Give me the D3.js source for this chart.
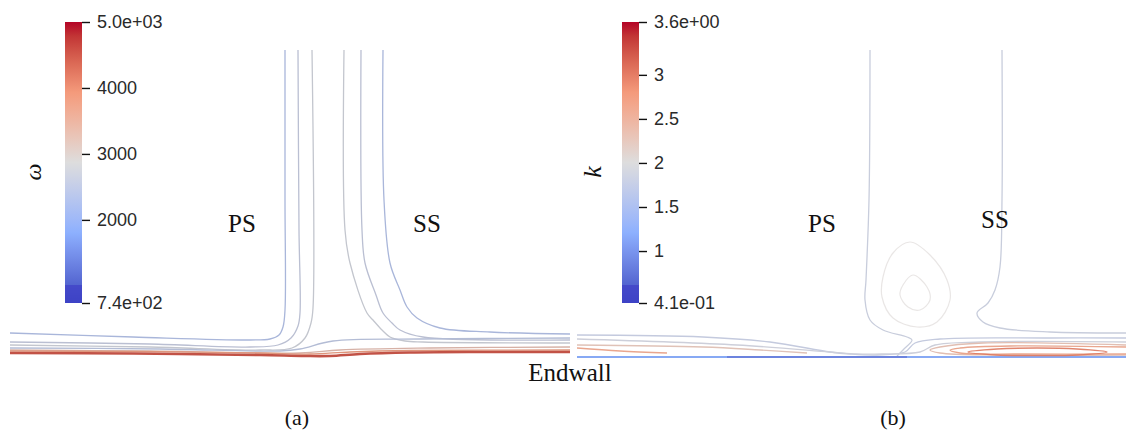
<!DOCTYPE html>
<html><head><meta charset="utf-8">
<script src="https://cdn.jsdelivr.net/npm/d3@7"></script>
<style>html,body{margin:0;padding:0;background:#fff}</style>
</head><body>
<svg id="c" width="1126" height="434"></svg>
<script>
// ---------------- data ----------------
const omegaRange = [740, 5000];
const omegaTicks = [5000, 4000, 3000, 2000, 740];
const omegaTickLabels = ["5.0e+03", "4000", "3000", "2000", "7.4e+02"];
const kRange = [0.41, 3.6];
const kTicks = [3.6, 3, 2.5, 2, 1.5, 1, 0.41];
const kTickLabels = ["3.6e+00", "3", "2.5", "2", "1.5", "1", "4.1e-01"];

// panel (a) contour lines of omega: [spanwise, height above endwall]
const aL1 = [[0,25],[123,21],[240,18],[260,19],[269,23],[273,31],[275,48],[275,158],[275,308]];
const aL2 = [[0,16],[140,14],[240,11],[268,13],[281,20],[288,32],[290,45],[289,128],[288,308]];
const aL3 = [[0,13],[140,11],[250,8],[282,10],[295,20],[301,35],[303,50],[302,308]];
const aL4 = [[334,308],[335,128],[340,95],[357,45],[363,38],[372,28],[380,21],[395,17],[413,16],[560,15]];
const aL5 = [[351,308],[352,128],[355,95],[366,63],[373,45],[382,35],[390,28],[413,21],[560,18]];
const aL6 = [[373,308],[374,158],[380,95],[390,68],[397,51],[407,40],[430,30],[480,26],[560,24]];
const aH1 = [[0,10],[150,9],[270,7],[290,9],[323,17],[410,19],[560,20]];
const aPale = [[0,8],[140,7],[290,5],[330,8],[420,10],[560,11]];
const aOrange = [[0,7],[123,6.5],[250,5],[300,4],[340,6],[400,7.5],[560,8]];
const aRed = [[0,5],[123,4.5],[250,3],[295,2],[320,2],[350,4],[400,5.5],[470,6],[560,6]];
const omegaLines = [aL1, aL2, aL3, aL4, aL5, aL6, aH1, aPale, aOrange, aRed];
const omegaLevels = [2350, 2600, 2750, 2750, 2600, 2350, 2500, 3300, 3800, 4500];

// panel (b) contour lines of k
const bV1 = [[293,308],[292,158],[289,78],[288,58],[293,38],[306,28],[330,21],[335,18],[326,8],[320,2]];
const bV2 = [[425,308],[425,158],[423,91],[418,68],[411,55],[400,45],[406,36],[423,30],[473,26],[549,25]];
const bB1 = [[0,23],[126,21],[193,16],[253,6],[273,4],[300,3],[328,6],[338,15],[363,19],[473,20],[549,20]];
const bB2 = [[0,19],[160,13],[253,6],[280,4],[305,4],[343,6],[358,13],[403,16],[549,16]];
const bB3 = [[0,13],[126,11],[183,8],[230,5]];
const bB4 = [[0,10],[43,7],[90,5]];
const bPeach = [[549,13],[406,15],[363,11],[353,8],[363,5],[423,3],[549,3]];
const bOrange = [[549,11],[433,12],[383,10],[373,8],[383,5],[443,4],[549,4]];
const bWall = [[0,1],[549,1]];
const bWallLow = [[150,1],[330,1]];
const kLines = [bV1, bV2, bB1, bB2, bB3, bB4, bPeach, bOrange, bWall, bWallLow];
const kLevels = [1.85, 1.85, 1.8, 1.9, 2.25, 2.6, 2.3, 2.6, 1.2, 0.9];
const bLoopOuter = [[333,116],[353,103],[370,78],[373,58],[360,36],[340,31],[316,40],[305,61],[306,81],[316,105]];
const bLoopInner = [[336,83],[350,71],[353,58],[343,48],[331,51],[323,63],[326,73]];
const bRedLoop = [[391,6],[420,9],[460,10],[500,9],[530,6],[500,3],[460,2.5],[420,3]];
const kLoops = [bLoopOuter, bLoopInner, bRedLoop];
const kLoopLevels = [2.05, 2.05, 3.0];

// ---------------- drawing ----------------
const svg = d3.select("#c");
const coolWarm = d3.scaleLinear()
  .domain([0, 0.25, 0.5, 0.75, 1])
  .range(["#3b4cc0", "#8db0fe", "#dddddd", "#f49a7b", "#b40426"])
  .interpolate(d3.interpolateLab);

const yA = d3.scaleLinear().domain([0, 308]).range([358, 50]);
const xA = d3.scaleLinear().domain([0, 562]).range([10, 572]);
const xB = d3.scaleLinear().domain([0, 549]).range([577, 1126]);

function drawPanel(xs, lines, levels, loops, loopLevels, range, dark) {
  const norm = d3.scaleLinear().domain(range).range([0, 1]).clamp(true);
  const col = v => d3.color(coolWarm(norm(v))).darker(dark).formatHex();
  const line = d3.line().x(d => xs(d[0])).y(d => yA(d[1])).curve(d3.curveCatmullRom.alpha(0.5));
  const closed = d3.line().x(d => xs(d[0])).y(d => yA(d[1])).curve(d3.curveCatmullRomClosed.alpha(0.5));
  const g = svg.append("g").attr("fill", "none");
  g.selectAll("path.l").data(lines).join("path").attr("class", "l")
    .attr("d", line)
    .attr("stroke", (d, i) => col(levels[i]))
    .attr("stroke-width", (d, i) => norm(levels[i]) > 0.85 ? 2.6 : (norm(levels[i]) < 0.3 ? 1.8 : 1.3));
  g.selectAll("path.o").data(loops).join("path").attr("class", "o")
    .attr("d", closed)
    .attr("stroke", (d, i) => col(loopLevels[i]))
    .attr("stroke-opacity", (d, i) => norm(loopLevels[i]) > 0.6 ? 0.9 : 0.55)
    .attr("stroke-width", (d, i) => norm(loopLevels[i]) > 0.6 ? 1.4 : 1.2);
}
drawPanel(xA, omegaLines, omegaLevels, [], [], omegaRange, 0.25);
drawPanel(xB, kLines, kLevels, kLoops, kLoopLevels, kRange, 0.1);

// colorbars
function colorbar(id, x, range, ticks, labels, title, titleX, titleSize) {
  const y = d3.scaleLinear().domain(range).range([303, 22]);
  const grad = svg.append("defs").append("linearGradient").attr("id", id)
    .attr("x1", 0).attr("y1", 1).attr("x2", 0).attr("y2", 0);
  d3.range(0, 1.0001, 0.05).forEach(t => grad.append("stop")
    .attr("offset", t).attr("stop-color", coolWarm(t)));
  svg.append("rect").attr("x", x).attr("y", y(range[1])).attr("width", 17)
    .attr("height", y(range[0]) - y(range[1])).attr("fill", `url(#${id})`);
  // saturated below-range block at the bottom of the bar
  const low = range[0] + (range[1] - range[0]) * 18 / 281;
  svg.append("rect").attr("x", x).attr("y", y(low)).attr("width", 17)
    .attr("height", y(range[0]) - y(low)).attr("fill", "#3f3fc8").attr("opacity", 0.7);
  const ax = d3.axisRight(y).tickValues(ticks).tickFormat((d, i) => labels[i]).tickSize(8).tickPadding(7);
  const g = svg.append("g").attr("transform", `translate(${x + 17},0)`).call(ax);
  g.select(".domain").remove();
  g.selectAll(".tick line").attr("stroke", "#111").attr("stroke-width", 1.4);
  g.selectAll(".tick text").attr("fill", "#2a2a2a")
    .style("font-family", "'Liberation Sans', Arial, sans-serif").style("font-size", "18px");
  svg.append("text").attr("transform", `translate(${titleX},172) rotate(-90)`)
    .attr("text-anchor", "middle").attr("dy", "0.35em")
    .style("font-family", "'Liberation Serif', 'Times New Roman', serif")
    .style("font-style", "italic").style("font-size", titleSize + "px").attr("fill", "#111")
    .text(title);
}
colorbar("gA", 65, omegaRange, omegaTicks, omegaTickLabels, "ω", 33, 24);
colorbar("gB", 622, kRange, kTicks, kTickLabels, "k", 592, 26);

// annotations
const serif = "'Liberation Serif', 'Times New Roman', serif";
function label(x, y, t, size) {
  svg.append("text").attr("x", x).attr("y", y).attr("text-anchor", "middle")
    .style("font-family", serif).style("font-size", size + "px").attr("fill", "#111").text(t);
}
label(242, 232, "PS", 25);
label(427, 232, "SS", 25);
label(822, 232, "PS", 25);
label(995, 228, "SS", 25);
label(570, 381, "Endwall", 25);
label(297, 425, "(a)", 22);
label(893, 425, "(b)", 22);
</script>
</body></html>
